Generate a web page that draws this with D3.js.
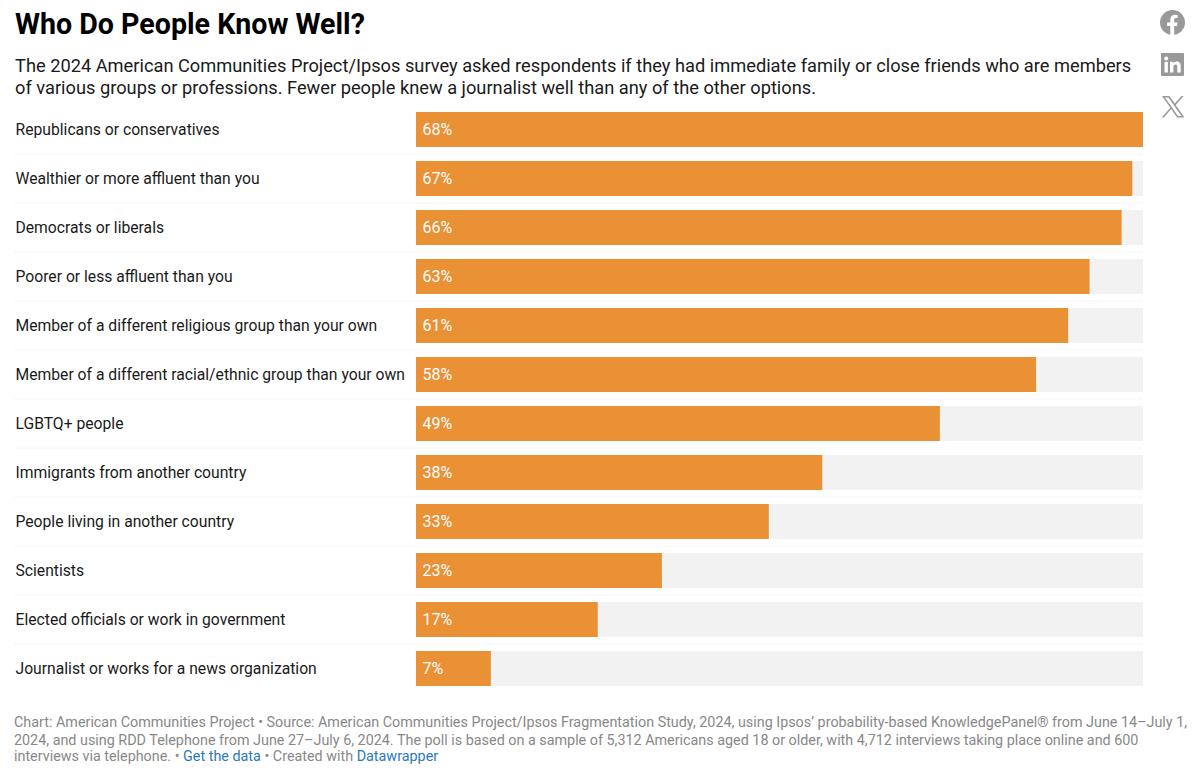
<!DOCTYPE html>
<html>
<head>
<meta charset="utf-8">
<script src="https://cdn.jsdelivr.net/npm/d3@7"></script>
<style>
body { margin: 0; background: #fff; }
text { font-family: Roboto, "Liberation Sans", sans-serif; }
</style>
</head>
<body>
<div id="chart"></div>
<script>
const categories = [
    'Republicans or conservatives',
    'Wealthier or more affluent than you',
    'Democrats or liberals',
    'Poorer or less affluent than you',
    'Member of a different religious group than your own',
    'Member of a different racial/ethnic group than your own',
    'LGBTQ+ people',
    'Immigrants from another country',
    'People living in another country',
    'Scientists',
    'Elected officials or work in government',
    'Journalist or works for a news organization'
];
const values = [68, 67, 66, 63, 61, 58, 49, 38, 33, 23, 17, 7];
const subtitleLines = [
    'The 2024 American Communities Project/Ipsos survey asked respondents if they had immediate family or close friends who are members',
    'of various groups or professions. Fewer people knew a journalist well than any of the other options.'
];
const footerLines = [
    'Chart: American Communities Project • Source: American Communities Project/Ipsos Fragmentation Study, 2024, using Ipsos’ probability-based KnowledgePanel® from June 14–July 1,',
    '2024, and using RDD Telephone from June 27–July 6, 2024. The poll is based on a sample of 5,312 Americans aged 18 or older, with 4,712 interviews taking place online and 600'
];

const svg = d3.select('#chart').append('svg').attr('width', 1200).attr('height', 781);

svg.append('text').attr('x', 15).attr('y', 34)
    .attr('font-size', 28.6).attr('font-weight', 700).attr('fill', '#000')
    .text('Who Do People Know Well?');

svg.selectAll('.sub').data(subtitleLines).enter().append('text')
    .attr('class', 'sub').attr('x', 15)
    .attr('y', (d, i) => 71.5 + i * 22.5)
    .attr('font-size', 18.25).attr('fill', '#1a1a1a')
    .text(d => d);

const x = d3.scaleLinear().domain([0, 68]).range([416, 1143]);
const y = d3.scaleBand().domain(categories).range([105, 693]).padding(0);
const barH = 35;

const rows = svg.append('g').selectAll('g').data(categories).enter().append('g')
    .attr('transform', d => `translate(0, ${y(d)})`);

rows.filter((d, i) => i > 0).append('line')
    .attr('x1', 15).attr('x2', 1143).attr('y1', 0).attr('y2', 0)
    .attr('stroke', '#eeeeee').attr('stroke-dasharray', '1,1');

rows.append('rect').attr('x', x(0)).attr('y', (y.bandwidth() - barH) / 2)
    .attr('width', x(68) - x(0)).attr('height', barH).attr('fill', '#f2f2f2');

rows.append('rect').attr('x', x(0)).attr('y', (y.bandwidth() - barH) / 2)
    .attr('width', (d, i) => x(values[i]) - x(0)).attr('height', barH).attr('fill', '#ea9035');

rows.append('text').attr('x', 15.5).attr('y', y.bandwidth() / 2 + 5.7)
    .attr('font-size', 15.7).attr('fill', '#1a1a1a').text(d => d);

rows.append('text').attr('x', x(0) + 6.5).attr('y', y.bandwidth() / 2 + 5.7)
    .attr('font-size', 16).attr('font-weight', 400).attr('fill', '#fff')
    .text((d, i) => values[i] + '%');

const footer = svg.append('g').attr('font-size', 14.35).attr('fill', '#888');
footer.selectAll('text').data(footerLines).enter().append('text')
    .attr('x', 14).attr('y', (d, i) => 727 + i * 17.5).text(d => d);
const last = footer.append('text').attr('x', 14).attr('y', 761);
last.append('tspan').text('interviews via telephone. • ');
last.append('tspan').attr('fill', '#2a7ab8').text('Get the data');
last.append('tspan').text(' • Created with ');
last.append('tspan').attr('fill', '#2a7ab8').text('Datawrapper');

// share icons
const icons = svg.append('g').attr('fill', '#999');
const fb = icons.append('g').attr('transform', 'translate(1172.5, 22.5)');
fb.append('circle').attr('r', 12.5);
fb.append('path').attr('fill', '#fff')
    .attr('d', 'M-2.2,12.5 V3.4 H-5.4 V0 H-2.2 V-2.8 C-2.2,-6 -0.3,-7.7 2.6,-7.7 C3.8,-7.7 5.2,-7.5 5.2,-7.5 V-4.6 H3.6 C2.1,-4.6 1.7,-3.7 1.7,-2.7 V0 H5 L4.5,3.4 H1.7 V12.5 Z');
const li = icons.append('g').attr('transform', 'translate(1161, 53)');
li.append('rect').attr('width', 23).attr('height', 23).attr('rx', 1);
li.append('rect').attr('x', 3.5).attr('y', 8.8).attr('width', 3.4).attr('height', 10.7).attr('fill', '#fff');
li.append('circle').attr('cx', 5.2).attr('cy', 5.4).attr('r', 2).attr('fill', '#fff');
li.append('path').attr('fill', '#fff')
    .attr('d', 'M9,8.8 H12.2 V10.3 C12.8,9.2 14.1,8.5 15.6,8.5 C18.8,8.5 19.7,10.4 19.7,13.4 V19.5 H16.3 V14 C16.3,12.5 15.9,11.4 14.5,11.4 C13,11.4 12.4,12.5 12.4,14 V19.5 H9 Z');
const xIcon = icons.append('g').attr('transform', 'translate(1162, 96)');
xIcon.append('path').attr('fill-rule', 'evenodd')
    .attr('d', 'M0,0 H7.3 L12.8,7.6 L19.5,0 H21.6 L13.7,9 L22.4,21.5 H15.1 L9.2,13.1 L1.9,21.5 H-0.2 L8.3,11.7 Z M3,1.5 L16,20 H19.4 L6.4,1.5 Z');
</script>
</body>
</html>
